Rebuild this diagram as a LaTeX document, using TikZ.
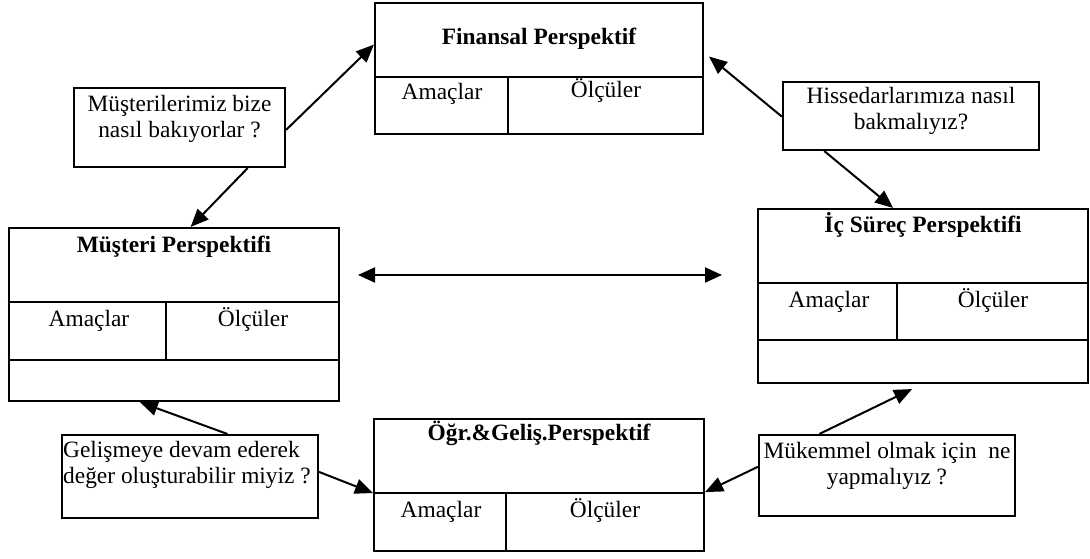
\documentclass[tikz,border=0pt]{standalone}
\usepackage{fontspec}
\setmainfont{Liberation Serif}
\usetikzlibrary{arrows.meta,calc}
\begin{document}
\begin{tikzpicture}[x=1pt,y=-1pt,
  frame/.style={draw, line width=2.1pt, inner sep=0pt},
  rule/.style={line width=2.1pt},
  txt/.style={font=\fontsize{23.4}{26.5}\selectfont, inner sep=0pt},
  title/.style={txt, font=\fontsize{23.4}{26.5}\selectfont\bfseries, anchor=base},
  cell/.style={txt, anchor=base},
  qtext/.style={txt, align=center, anchor=north},
  link/.style={line width=2pt, -{Triangle[length=18pt,width=15pt]}},
  both/.style={line width=2pt, {Triangle[length=17pt,width=15pt]}-{Triangle[length=17pt,width=15pt]}},
]
\useasboundingbox (0,0) rectangle (1090,558);

% perspective boxes
\node[frame, minimum width=328pt, minimum height=131pt] (fin) at (539,68.5) {};
\node[frame, minimum width=330pt, minimum height=173pt] (mus) at (174,314.5) {};
\node[frame, minimum width=330pt, minimum height=174pt] (ic)  at (923,296) {};
\node[frame, minimum width=330pt, minimum height=132pt] (ogr) at (539,485) {};

% inner rules of the perspective boxes
\draw[rule] ($(fin.north west)+(0,75)$) -- ($(fin.north east)+(0,75)$);
\draw[rule] ($(fin.north west)+(134,75)$) -- ($(fin.south west)+(134,0)$);

\draw[rule] ($(mus.north west)+(0,75)$) -- ($(mus.north east)+(0,75)$);
\draw[rule] ($(mus.north west)+(0,133)$) -- ($(mus.north east)+(0,133)$);
\draw[rule] ($(mus.north west)+(158,75)$) -- ($(mus.north west)+(158,133)$);

\draw[rule] ($(ic.north west)+(0,75)$) -- ($(ic.north east)+(0,75)$);
\draw[rule] ($(ic.north west)+(0,132)$) -- ($(ic.north east)+(0,132)$);
\draw[rule] ($(ic.north west)+(140,75)$) -- ($(ic.north west)+(140,132)$);

\draw[rule] ($(ogr.north west)+(0,75)$) -- ($(ogr.north east)+(0,75)$);
\draw[rule] ($(ogr.north west)+(133,75)$) -- ($(ogr.south west)+(133,0)$);

% titles and cells
\node[title] (finT) at (539,44) {Finansal Perspektif};
\node[cell] (finA) at (442,99) {Amaçlar};
\node[cell] (finO) at (606,97) {Ölçüler};

\node[title] (musT) at (174,252) {Müşteri Perspektifi};
\node[cell] (musA) at (89,326) {Amaçlar};
\node[cell] (musO) at (253,326) {Ölçüler};

\node[title] (icT) at (923,232) {İç Süreç Perspektifi};
\node[cell] (icA) at (829,307) {Amaçlar};
\node[cell] (icO) at (993,307) {Ölçüler};

\node[title] (ogrT) at (539,440) {Öğr.\&Geliş.Perspektif};
\node[cell] (ogrA) at (441,517) {Amaçlar};
\node[cell] (ogrO) at (605,517) {Ölçüler};

% question boxes
\node[frame, minimum width=211pt, minimum height=79pt] (q1) at (179.5,127.5) {};
\node[frame, minimum width=256pt, minimum height=68pt] (q2) at (911,116) {};
\node[frame, minimum width=256pt, minimum height=83pt] (q3) at (190,476.5) {};
\node[frame, minimum width=256pt, minimum height=81pt] (q4) at (887,475.5) {};

\node[qtext] (q1T) at (179.5,95) {Müşterilerimiz bize\\nasıl bakıyorlar ?};
\node[qtext] (q2T) at (911,87) {Hissedarlarımıza nasıl\\bakmalıyız?};
\node[txt, align=left, anchor=north west] (q3T) at (63,441) {Gelişmeye devam ederek\\değer oluşturabilir miyiz ?};
\node[qtext] (q4T) at (887,442) {Mükemmel olmak için\ \ ne\\yapmalıyız ?};

% connectors
\draw[link] ($(q1.north east)!0.53!(q1.south east)$) -- ($(fin.north west)!0.32!(fin.south west)$);
\draw[link] ($(q1.south west)!0.82!(q1.south east)$) -- ($(mus.north west)!0.55!(mus.north east)$);
\draw[link] ($(q2.north west)!0.51!(q2.south west)$) -- ($(fin.north east)!0.41!(fin.south east)+(5,0)$);
\draw[link] ($(q2.south west)!0.164!(q2.south east)$) -- ($(ic.north west)!0.41!(ic.north east)$);
\draw[link] ($(q3.north west)!0.645!(q3.north east)$) -- ($(mus.south west)!0.397!(mus.south east)$);
\draw[link] ($(q3.north east)!0.446!(q3.south east)$) -- ($(ogr.north west)!0.56!(ogr.south west)$);
\draw[link] ($(q4.north west)!0.238!(q4.north east)$) -- ($(ic.south west)!0.467!(ic.south east)+(0,5)$);
\draw[link] ($(q4.north west)!0.395!(q4.south west)$) -- ($(ogr.north east)!0.553!(ogr.south east)$);

\coordinate (hl) at (358,275);
\coordinate (hr) at (722,275);
\draw[both] (hl) -- (hr);
\end{tikzpicture}
\end{document}
